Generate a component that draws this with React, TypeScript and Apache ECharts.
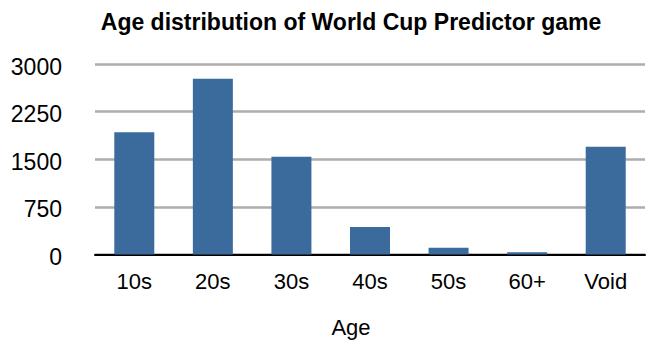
import React, { useEffect, useRef } from "react";
import * as echarts from "echarts";

const titleText = "Age distribution of World Cup Predictor game";
const categories = ["10s", "20s", "30s", "40s", "50s", "60+", "Void"];
const values = [1925, 2768, 1540, 435, 105, 35, 1695];
const yTicks = [0, 750, 1500, 2250, 3000];
const xAxisName = "Age";

export default function App() {
  const ref = useRef<HTMLDivElement>(null);
  useEffect(() => {
    if (!ref.current) return;
    const chart = echarts.init(ref.current, null, { renderer: "svg" });
    const font = "'Liberation Sans', Arial, Helvetica, sans-serif";
    chart.setOption({
      animation: false,
      backgroundColor: "#ffffff",
      graphic: [
        {
          type: "text",
          x: 351,
          y: 22,
          style: {
            text: titleText,
            fontFamily: font,
            fontWeight: "bold",
            fontSize: 23,
            fill: "#000",
            textAlign: "center",
            textVerticalAlign: "middle",
          },
        },
        {
          type: "text",
          x: 351,
          y: 327.5,
          style: {
            text: xAxisName,
            fontFamily: font,
            fontSize: 22,
            fill: "#000",
            textAlign: "center",
            textVerticalAlign: "middle",
          },
        },
      ],
      grid: { left: 95, right: 7, top: 64, bottom: 86.5 },
      xAxis: {
        type: "category",
        data: categories,
        axisLine: { show: true, lineStyle: { color: "#000", width: 2 } },
        axisTick: { show: false },
        axisLabel: { color: "#000", fontSize: 22, fontFamily: font, margin: 16 },
      },
      yAxis: {
        type: "value",
        min: yTicks[0],
        max: yTicks[yTicks.length - 1],
        interval: 750,
        axisLine: { show: false },
        axisTick: { show: false },
        axisLabel: {
          color: "#000",
          fontSize: 23,
          fontFamily: font,
          margin: 33,
          verticalAlign: "top",
          padding: [-9, 0, 0, 0],
          formatter: (v: number) => String(v),
        },
        splitLine: { lineStyle: { color: "#adadad", width: 2.5 } },
      },
      series: [
        {
          type: "bar",
          data: values,
          barWidth: 40,
          itemStyle: { color: "#3b6b9c" },
        },
      ],
    });
    return () => chart.dispose();
  }, []);
  return <div ref={ref} style={{ width: 652, height: 341, position: "absolute", left: 0, top: 0 }} />;
}
